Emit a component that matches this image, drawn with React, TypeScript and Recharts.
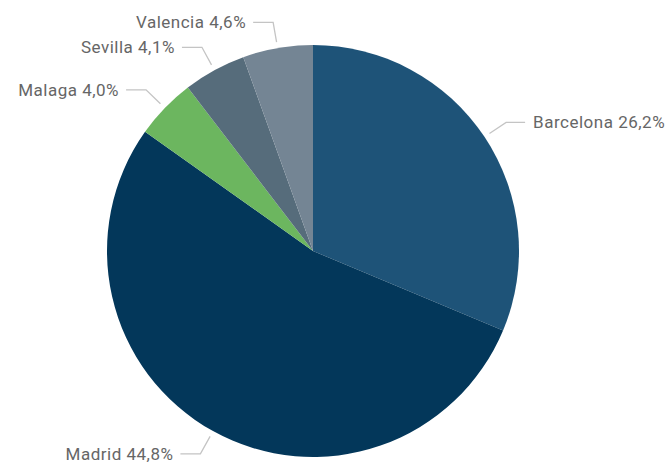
import { PieChart, Pie, Cell } from "recharts";

const cities = ["Barcelona", "Madrid", "Malaga", "Sevilla", "Valencia"];
const shares = [26.2, 44.8, 4.0, 4.1, 4.6];
const colors = ["#1e5378", "#03375a", "#6cb65f", "#566c7b", "#748594"];

const data = cities.map((name, i) => ({ name, value: shares[i] }));

const RAD = Math.PI / 180;

const renderLabel = (props: any) => {
  const { cx, cy, midAngle, outerRadius, index } = props;
  const cos = Math.cos(-midAngle * RAD);
  const sin = Math.sin(-midAngle * RAD);
  const sx = cx + (outerRadius + 6) * cos;
  const sy = cy + (outerRadius + 6) * sin;
  const mx = cx + (outerRadius + 26) * cos;
  const my = cy + (outerRadius + 26) * sin;
  const right = cos >= 0;
  const ex = mx + (right ? 19 : -20);
  const tx = ex + (right ? 8 : -7);
  const txt = `${cities[index]} ${shares[index].toFixed(1).replace(".", ",")}%`;
  return (
    <g>
      <polyline
        points={`${sx},${sy} ${mx},${my} ${ex},${my}`}
        fill="none"
        stroke="#c4c4c4"
        strokeWidth={1.3}
      />
      <text
        x={tx}
        y={my}
        textAnchor={right ? "start" : "end"}
        dominantBaseline="central"
        fill="#666666"
        fontSize={17}
        letterSpacing={0.5}
        fontFamily="Roboto, sans-serif"
      >
        {txt}
      </text>
    </g>
  );
};

export default function App() {
  return (
    <div style={{ position: "fixed", left: 0, top: 0, background: "#fff" }}>
      <PieChart width={669} height={462} margin={{ top: 0, right: 0, bottom: 0, left: 0 }}>
        <Pie
          data={data}
          dataKey="value"
          nameKey="name"
          cx={313}
          cy={251}
          outerRadius={206}
          startAngle={90}
          endAngle={-270}
          stroke="none"
          label={renderLabel}
          labelLine={false}
          isAnimationActive={false}
        >
          {data.map((d, i) => (
            <Cell key={d.name} fill={colors[i]} />
          ))}
        </Pie>
      </PieChart>
    </div>
  );
}
